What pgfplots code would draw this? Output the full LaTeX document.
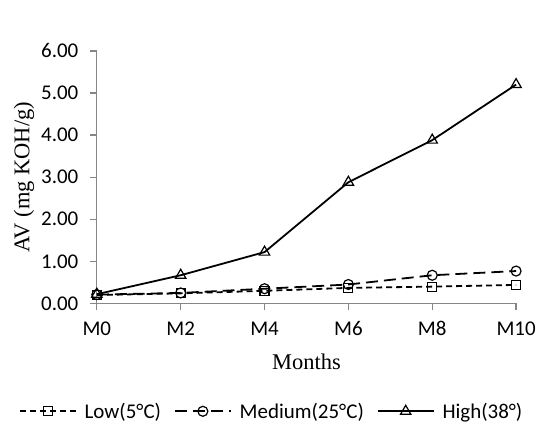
\documentclass[border=0pt]{standalone}
\usepackage{fontspec}
\setmainfont{Carlito}
\newfontfamily\timesf{Liberation Serif}
\usepackage{pgfplots}
\pgfplotsset{compat=1.18}
\definecolor{axgray}{HTML}{868686}
\begin{document}
\begin{tikzpicture}
\begin{axis}[
    scale only axis,
    width=420pt, height=253pt,
    xmin=0, xmax=10, ymin=0, ymax=6,
    axis lines=left,
    axis line style={-, draw=axgray, line width=1.2pt},
    tick style={draw=axgray, line width=1.2pt},
    major tick length=7pt,
    tick align=outside,
    xtick={0,2,4,6,8,10},
    xticklabels={M0,M2,M4,M6,M8,M10},
    ytick={0,1,...,6},
    ticklabel style={font=\fontsize{21}{24}\selectfont},
    yticklabel style={xshift=-8pt, /pgf/number format/.cd, fixed, fixed zerofill, precision=2, assume math mode=true},
    xticklabel style={yshift=-8pt, text height=13.5pt, text depth=0pt},
    xlabel={Months},
    ylabel={AV (mg KOH/g)},
    label style={font=\timesf\fontsize{22.5}{25}\selectfont},
    xlabel style={yshift=-12pt},
    legend columns=3,
    legend cell align=left,
    legend style={draw=none, fill=none, at={(0.417,-0.427)}, anchor=center,
        font=\fontsize{21}{24}\selectfont, inner sep=0pt,
        /tikz/every odd column/.append style={column sep=6pt},
        /tikz/every even column/.append style={column sep=11pt}},
    legend image code/.code={
        \draw[mark repeat=2, mark phase=2, #1] plot coordinates {(0pt,0pt) (28pt,0pt) (56pt,0pt)};},
    clip=false,
]
\addplot[black, line width=1.8pt, dash pattern=on 6pt off 4pt,
    mark=square, mark size=4.5pt, mark options={solid, line width=1.2pt, fill=white}]
    coordinates {(0,0.20) (2,0.24) (4,0.30) (6,0.37) (8,0.40) (10,0.44)};
\addlegendentry{Low(5°C)}
\addplot[black, line width=1.8pt, dash pattern=on 12pt off 6pt,
    mark=o, mark size=5pt, mark options={solid, line width=1.2pt, fill=white}]
    coordinates {(0,0.21) (2,0.25) (4,0.35) (6,0.45) (8,0.67) (10,0.77)};
\addlegendentry{Medium(25°C)}
\addplot[black, line width=1.8pt,
    mark=triangle, mark size=6pt, mark options={solid, line width=1.2pt, fill=white}]
    coordinates {(0,0.22) (2,0.67) (4,1.22) (6,2.88) (8,3.88) (10,5.20)};
\addlegendentry{High(38°)}
\end{axis}
\path (current axis.south west) ++(-97pt,-131pt) rectangle ++(539pt,435pt);
\end{tikzpicture}
\end{document}
